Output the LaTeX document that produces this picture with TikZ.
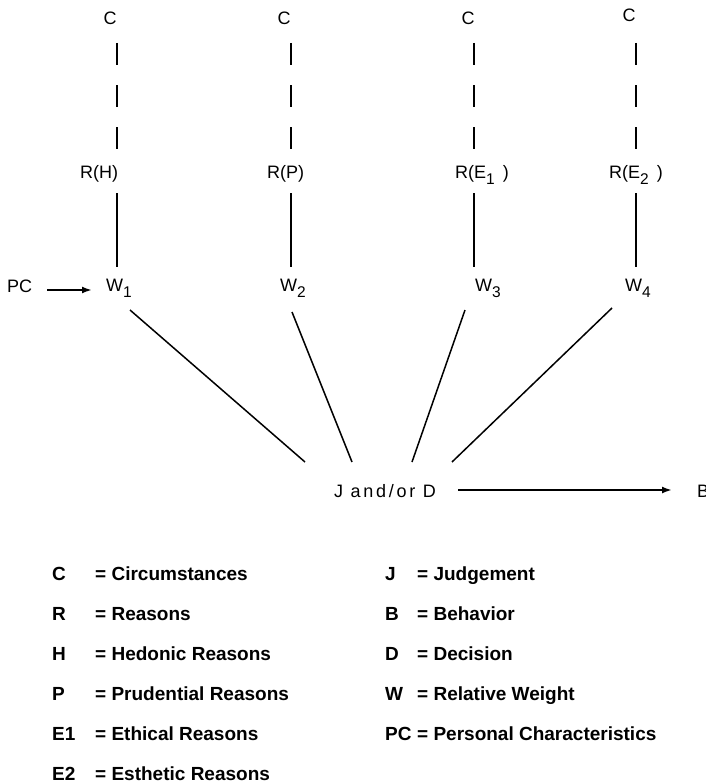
\documentclass[tikz,border=0pt]{standalone}
\usepackage{fontspec}
\setmainfont{Liberation Sans}
\usetikzlibrary{arrows.meta,calc}
\newcommand{\lowsub}[1]{\raisebox{-0.7ex}{\fontsize{15.5}{15.5}\selectfont #1}}
\begin{document}
\begin{tikzpicture}[x=1pt,y=-1pt,
  lbl/.style={font=\fontsize{18}{20}\selectfont, inner sep=0pt, anchor=base},
  lblw/.style={lbl, anchor=base west},
  leg/.style={font=\fontsize{19}{21}\selectfont\bfseries, inner sep=0pt, anchor=base west},
  dashconn/.style={line width=1.8pt, dash pattern=on 22pt off 20pt},
  solidconn/.style={line width=1.8pt},
  diag/.style={line width=1.5pt},
  arr/.style={line width=2.4pt, -{Latex[length=10pt,width=7pt]}}]
\useasboundingbox (0,0) rectangle (706,784);

% top labels
\node[lbl] (C1) at (110,25) {C};
\node[lbl] (C2) at (284,25) {C};
\node[lbl] (C3) at (468,25) {C};
\node[lbl] (C4) at (629,22) {C};

\node[lblw] (R1) at (80,178) {R(H)};
\node[lblw] (R2) at (267,178) {R(P)};
\node[lblw] (R3) at (455,178) {R(E\lowsub{1}\, )};
\node[lblw] (R4) at (609,178) {R(E\lowsub{2}\, )};

\node[lblw] (W1) at (106,291) {W\lowsub{1}};
\node[lblw] (W2) at (280,291) {W\lowsub{2}};
\node[lblw] (W3) at (475,291) {W\lowsub{3}};
\node[lblw] (W4) at (625,291) {W\lowsub{4}};

\node[lblw] (PC) at (7,292) {PC};
\node[lbl, font=\fontsize{18}{20}\selectfont\addfontfeature{LetterSpace=15}] (JD) at (385,497) {J and/or D};
\node[lblw] (B) at (697,497) {B};

% C -> R dashed, R -> W solid
\draw[dashconn] ($(C1.base)+(7,18)$) -- ($(R1.base west)+(37,-26)$);
\draw[dashconn] ($(C2.base)+(7,18)$) -- ($(R2.base west)+(24,-26)$);
\draw[dashconn] ($(C3.base)+(6,18)$) -- ($(R3.base west)+(19,-26)$);
\draw[dashconn] ($(C4.base)+(7,21)$) -- ($(R4.base west)+(27,-26)$);

\draw[solidconn] ($(R1.base west)+(37,15)$) -- ($(W1.base west)+(11,-24)$);
\draw[solidconn] ($(R2.base west)+(24,15)$) -- ($(W2.base west)+(11,-24)$);
\draw[solidconn] ($(R3.base west)+(19,15)$) -- ($(W3.base west)+(-1,-24)$);
\draw[solidconn] ($(R4.base west)+(27,15)$) -- ($(W4.base west)+(11,-24)$);

% PC -> W1
\draw[arr] ($(PC.base west)+(40,-2)$) -- ($(W1.base west)+(-14,-1)$);

% W -> J and/or D
\draw[diag] ($(W1.base west)+(24,19)$) -- ($(JD.base)+(-80,-35)$);
\draw[diag] ($(W2.base west)+(12,21)$) -- ($(JD.base)+(-33,-35)$);
\draw[diag] ($(W3.base west)+(-10,19)$) -- ($(JD.base)+(27,-35)$);
\draw[diag] ($(W4.base west)+(-13,17)$) -- ($(JD.base)+(67,-35)$);

% J and/or D -> B
\draw[arr] ($(JD.base)+(73,-7)$) -- ($(B.base west)+(-25,-7)$);

% legend
\node[leg] (k1) at (52,580) {C};
\node[leg] (k2) at (52,620) {R};
\node[leg] (k3) at (52,660) {H};
\node[leg] (k4) at (52,700) {P};
\node[leg] (k5) at (52,740) {E1};
\node[leg] (k6) at (52,780) {E2};
\node[leg] (d1) at (95,580) {= Circumstances};
\node[leg] (d2) at (95,620) {= Reasons};
\node[leg] (d3) at (95,660) {= Hedonic Reasons};
\node[leg] (d4) at (95,700) {= Prudential Reasons};
\node[leg] (d5) at (95,740) {= Ethical Reasons};
\node[leg] (d6) at (95,780) {= Esthetic Reasons};

\node[leg] (k7) at (385,580) {J};
\node[leg] (k8) at (385,620) {B};
\node[leg] (k9) at (385,660) {D};
\node[leg] (k10) at (385,700) {W};
\node[leg] (k11) at (385,740) {PC};
\node[leg] (d7) at (417,580) {= Judgement};
\node[leg] (d8) at (417,620) {= Behavior};
\node[leg] (d9) at (417,660) {= Decision};
\node[leg] (d10) at (417,700) {= Relative Weight};
\node[leg] (d11) at (417,740) {= Personal Characteristics};
\end{tikzpicture}
\end{document}
